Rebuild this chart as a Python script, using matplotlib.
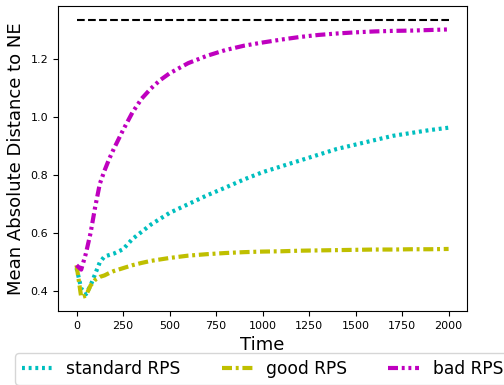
import matplotlib
matplotlib.use('Agg')
import matplotlib.pyplot as plt

# time steps
time = [0, 25, 50, 75, 100, 125, 150, 175, 200, 250, 300, 350, 400, 450, 500,
        600, 700, 800, 900, 1000, 1100, 1200, 1300, 1400, 1500, 1600, 1700,
        1800, 1900, 2000]

standard_rps = [0.48, 0.41, 0.39, 0.42, 0.46, 0.50, 0.52, 0.525, 0.53, 0.545,
                0.58, 0.605, 0.63, 0.65, 0.67, 0.70, 0.73, 0.757, 0.785, 0.81,
                0.83, 0.85, 0.87, 0.89, 0.905, 0.92, 0.935, 0.945, 0.955, 0.963]

good_rps = [0.49, 0.38, 0.385, 0.42, 0.44, 0.45, 0.455, 0.463, 0.47, 0.48,
            0.49, 0.498, 0.505, 0.51, 0.515, 0.523, 0.528, 0.532, 0.535, 0.537,
            0.538, 0.54, 0.541, 0.542, 0.543, 0.544, 0.544, 0.545, 0.545, 0.546]

bad_rps = [0.49, 0.475, 0.53, 0.60, 0.69, 0.77, 0.815, 0.855, 0.89, 0.955,
           1.015, 1.063, 1.098, 1.127, 1.15, 1.185, 1.21, 1.23, 1.245, 1.256,
           1.266, 1.275, 1.282, 1.287, 1.291, 1.294, 1.296, 1.297, 1.299, 1.301]

ne_level = 4 / 3

fig = plt.figure(figsize=(5.04, 3.85), dpi=100)
ax = fig.add_subplot(111)
fig.subplots_adjust(left=0.115, right=0.927, top=0.984, bottom=0.192)

ax.plot(time, standard_rps, color='c', linewidth=3, linestyle=(0, (0.7, 0.9)),
        label='standard RPS')
ax.plot(time, good_rps, color='y', linewidth=3, linestyle=(0, (2.4, 0.9, 0.7, 0.9)),
        label='good RPS')
ax.plot(time, bad_rps, color='m', linewidth=3,
        linestyle=(0, (2.4, 0.9, 0.7, 0.9, 0.7, 0.9)), label='bad RPS')
ax.plot([time[0], time[-1]], [ne_level, ne_level], color='k', linewidth=1.5,
        linestyle='--')

ax.set_xlabel('Time', fontsize=13)
ax.set_ylabel('Mean Absolute Distance to NE', fontsize=13)
ax.set_xticks([0, 250, 500, 750, 1000, 1250, 1500, 1750, 2000])
ax.set_yticks([0.4, 0.6, 0.8, 1.0, 1.2])
ax.tick_params(labelsize=8)

ax.legend(loc='upper center', bbox_to_anchor=(0.5, -0.11), ncol=3, fontsize=12.3,
          handlelength=1.8, columnspacing=2.4)

fig.savefig('out.png', dpi=100)
